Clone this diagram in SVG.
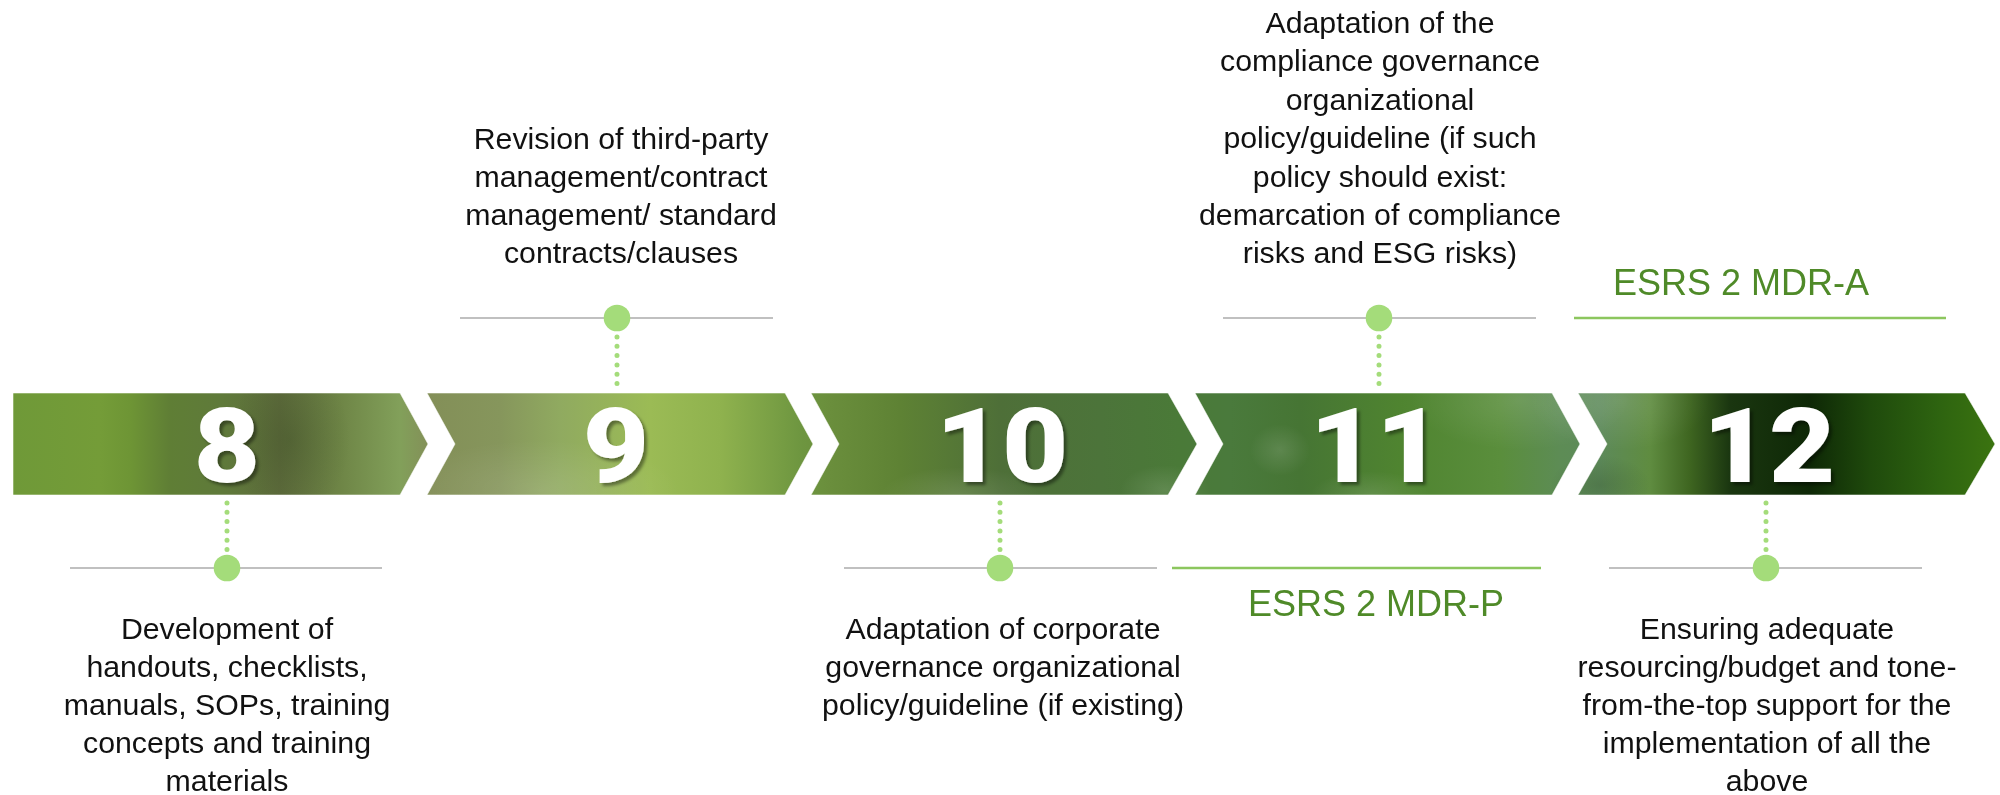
<svg xmlns="http://www.w3.org/2000/svg" width="2000" height="795" viewBox="0 0 2000 795">
  <style>
    .body { font-family: "Liberation Sans", Arial, sans-serif; font-size: 30.3px; fill: #111111; text-anchor: middle; }
    .num { font-family: Roboto, Inter, "DejaVu Sans", sans-serif; font-weight: 900; font-size: 104px; fill: #ffffff; text-anchor: middle; }
    .esrs { font-family: "Liberation Sans", Arial, sans-serif; font-size: 36px; fill: #4f8a28; text-anchor: middle; }
    .band { fill: url(#bandFill); stroke: #ffffff; stroke-opacity: 0.55; stroke-width: 1; }
    .tick { stroke: #c0c0c0; stroke-width: 2; }
    .esrsline { stroke: #8cc65e; stroke-width: 2.5; }
    .pin { fill: #a4dc7a; }
    .dots { stroke: #a4dc7a; stroke-width: 5; stroke-linecap: round; stroke-dasharray: 0 9.3; fill: none; }
  </style>
  <defs>
    <!-- one continuous photo-like wash shared by all chevrons -->
    <linearGradient id="bandFill" gradientUnits="userSpaceOnUse" x1="0" y1="0" x2="2000" y2="0">
      <stop offset="0.0065" stop-color="#6f9938"/>
      <stop offset="0.05" stop-color="#749c38"/>
      <stop offset="0.065" stop-color="#6e9535"/>
      <stop offset="0.085" stop-color="#5f7e35"/>
      <stop offset="0.11" stop-color="#5f7a3a"/>
      <stop offset="0.14" stop-color="#5e6c3c"/>
      <stop offset="0.17" stop-color="#6e8546"/>
      <stop offset="0.2" stop-color="#82a05a"/>
      <stop offset="0.215" stop-color="#838f58"/>
      <stop offset="0.25" stop-color="#86965c"/>
      <stop offset="0.28" stop-color="#90aa60"/>
      <stop offset="0.325" stop-color="#9bbb55"/>
      <stop offset="0.36" stop-color="#8fb24e"/>
      <stop offset="0.4" stop-color="#6e9640"/>
      <stop offset="0.415" stop-color="#6a8e3c"/>
      <stop offset="0.45" stop-color="#5e8234"/>
      <stop offset="0.5" stop-color="#4e6f38"/>
      <stop offset="0.55" stop-color="#4c743a"/>
      <stop offset="0.59" stop-color="#4a7a38"/>
      <stop offset="0.615" stop-color="#4a7a3c"/>
      <stop offset="0.65" stop-color="#467534"/>
      <stop offset="0.7" stop-color="#4f8430"/>
      <stop offset="0.75" stop-color="#5a8e3c"/>
      <stop offset="0.78" stop-color="#5d8c55"/>
      <stop offset="0.8" stop-color="#5d8a5a"/>
      <stop offset="0.825" stop-color="#5f8c40"/>
      <stop offset="0.845" stop-color="#3e6520"/>
      <stop offset="0.865" stop-color="#1a3610"/>
      <stop offset="0.905" stop-color="#0e2806"/>
      <stop offset="0.935" stop-color="#1f4a0c"/>
      <stop offset="0.97" stop-color="#2e6410"/>
      <stop offset="1" stop-color="#3c7510"/>
    </linearGradient>
    <radialGradient id="glow">
      <stop offset="0" stop-color="#ffffff" stop-opacity="0.12"/>
      <stop offset="1" stop-color="#ffffff" stop-opacity="0"/>
    </radialGradient>
    <radialGradient id="shade">
      <stop offset="0" stop-color="#1c3010" stop-opacity="0.2"/>
      <stop offset="1" stop-color="#1c3010" stop-opacity="0"/>
    </radialGradient>
    <clipPath id="bandClip">
      <polygon points="13,393 400,393 428,444 400,495 13,495"/>
      <polygon points="427,393 785,393 813,444 785,495 427,495 455,444"/>
      <polygon points="811,393 1168,393 1197,444 1168,495 811,495 839,444"/>
      <polygon points="1195,393 1552,393 1580,444 1552,495 1195,495 1223,444"/>
      <polygon points="1578,393 1965,393 1995,444 1965,495 1578,495 1607,444"/>
    </clipPath>
    <filter id="numShadow" x="-20%" y="-20%" width="140%" height="140%">
      <feDropShadow dx="3" dy="3" stdDeviation="1.5" flood-color="#000000" flood-opacity="0.4"/>
    </filter>
  </defs>

  <rect width="2000" height="795" fill="#ffffff"/>

  <!-- chevron steps -->
  <g id="step-8">
    <polygon class="band" points="13,393 400,393 428,444 400,495 13,495"/>
  </g>
  <g id="step-9">
    <polygon class="band" points="427,393 785,393 813,444 785,495 427,495 455,444"/>
  </g>
  <g id="step-10">
    <polygon class="band" points="811,393 1168,393 1197,444 1168,495 811,495 839,444"/>
  </g>
  <g id="step-11">
    <polygon class="band" points="1195,393 1552,393 1580,444 1552,495 1195,495 1223,444"/>
  </g>
  <g id="step-12">
    <polygon class="band" points="1578,393 1965,393 1995,444 1965,495 1578,495 1607,444"/>
  </g>

  <!-- soft light and shadow patches over the band -->
  <g clip-path="url(#bandClip)">
    <ellipse cx="540" cy="490" rx="140" ry="50" fill="url(#glow)"/>
    <ellipse cx="290" cy="440" rx="60" ry="80" fill="url(#shade)"/>
    <ellipse cx="960" cy="495" rx="80" ry="28" fill="url(#glow)"/>
    <ellipse cx="1165" cy="490" rx="45" ry="25" fill="url(#glow)"/>
    <ellipse cx="1280" cy="450" rx="30" ry="26" fill="url(#glow)"/>
    <ellipse cx="1370" cy="495" rx="60" ry="24" fill="url(#glow)"/>
    <ellipse cx="1520" cy="400" rx="110" ry="50" fill="url(#glow)"/>
    <ellipse cx="1620" cy="400" rx="90" ry="50" fill="url(#glow)"/>
    <ellipse cx="1600" cy="485" rx="50" ry="30" fill="url(#shade)"/>
  </g>

  <!-- step numbers, widened to a heavy display cut -->
  <g filter="url(#numShadow)">
    <text class="num" transform="translate(227,482) scale(1.1,1)">8</text>
    <text class="num" transform="translate(616,482) scale(1.1,1)">9</text>
    <text class="num" transform="translate(1002,482) scale(1.1,1)">10</text>
    <text class="num" transform="translate(1376,482) scale(1.1,1)">11</text>
    <text class="num" transform="translate(1769,482) scale(1.1,1)">12</text>
  </g>

  <!-- connectors: dotted stems, baselines and pins -->
  <g id="connectors">
    <line class="dots" x1="227" y1="503" x2="227" y2="550"/>
    <line class="dots" x1="617" y1="337" x2="617" y2="384"/>
    <line class="dots" x1="1000" y1="503" x2="1000" y2="550"/>
    <line class="dots" x1="1379" y1="337" x2="1379" y2="384"/>
    <line class="dots" x1="1766" y1="503" x2="1766" y2="550"/>

    <line class="tick" x1="70" y1="568" x2="382" y2="568"/>
    <line class="tick" x1="460" y1="318" x2="773" y2="318"/>
    <line class="tick" x1="844" y1="568" x2="1157" y2="568"/>
    <line class="tick" x1="1223" y1="318" x2="1536" y2="318"/>
    <line class="tick" x1="1609" y1="568" x2="1922" y2="568"/>

    <circle class="pin" cx="227" cy="568" r="13.3"/>
    <circle class="pin" cx="617" cy="318" r="13.3"/>
    <circle class="pin" cx="1000" cy="568" r="13.3"/>
    <circle class="pin" cx="1379" cy="318" r="13.3"/>
    <circle class="pin" cx="1766" cy="568" r="13.3"/>
  </g>

  <!-- step descriptions -->
  <g id="label-8">
    <text class="body" x="227" y="639">Development of</text>
    <text class="body" x="227" y="677">handouts, checklists,</text>
    <text class="body" x="227" y="715">manuals, SOPs, training</text>
    <text class="body" x="227" y="753">concepts and training</text>
    <text class="body" x="227" y="791">materials</text>
  </g>
  <g id="label-9">
    <text class="body" x="621" y="149">Revision of third-party</text>
    <text class="body" x="621" y="187">management/contract</text>
    <text class="body" x="621" y="225">management/ standard</text>
    <text class="body" x="621" y="263">contracts/clauses</text>
  </g>
  <g id="label-10">
    <text class="body" x="1003" y="639">Adaptation of corporate</text>
    <text class="body" x="1003" y="677">governance organizational</text>
    <text class="body" x="1003" y="715">policy/guideline (if existing)</text>
  </g>
  <g id="label-11">
    <text class="body" x="1380" y="33">Adaptation of the</text>
    <text class="body" x="1380" y="71">compliance governance</text>
    <text class="body" x="1380" y="110">organizational</text>
    <text class="body" x="1380" y="148">policy/guideline (if such</text>
    <text class="body" x="1380" y="187">policy should exist:</text>
    <text class="body" x="1380" y="225">demarcation of compliance</text>
    <text class="body" x="1380" y="263">risks and ESG risks)</text>
  </g>
  <g id="label-12">
    <text class="body" x="1767" y="639">Ensuring adequate</text>
    <text class="body" x="1767" y="677">resourcing/budget and tone-</text>
    <text class="body" x="1767" y="715">from-the-top support for the</text>
    <text class="body" x="1767" y="753">implementation of all the</text>
    <text class="body" x="1767" y="791">above</text>
  </g>

  <!-- ESRS disclosure markers -->
  <g id="esrs-mdr-a">
    <line class="esrsline" x1="1574" y1="318" x2="1946" y2="318"/>
    <text class="esrs" x="1741" y="295">ESRS 2 MDR-A</text>
  </g>
  <g id="esrs-mdr-p">
    <line class="esrsline" x1="1172" y1="568" x2="1541" y2="568"/>
    <text class="esrs" x="1376" y="616">ESRS 2 MDR-P</text>
  </g>
</svg>
